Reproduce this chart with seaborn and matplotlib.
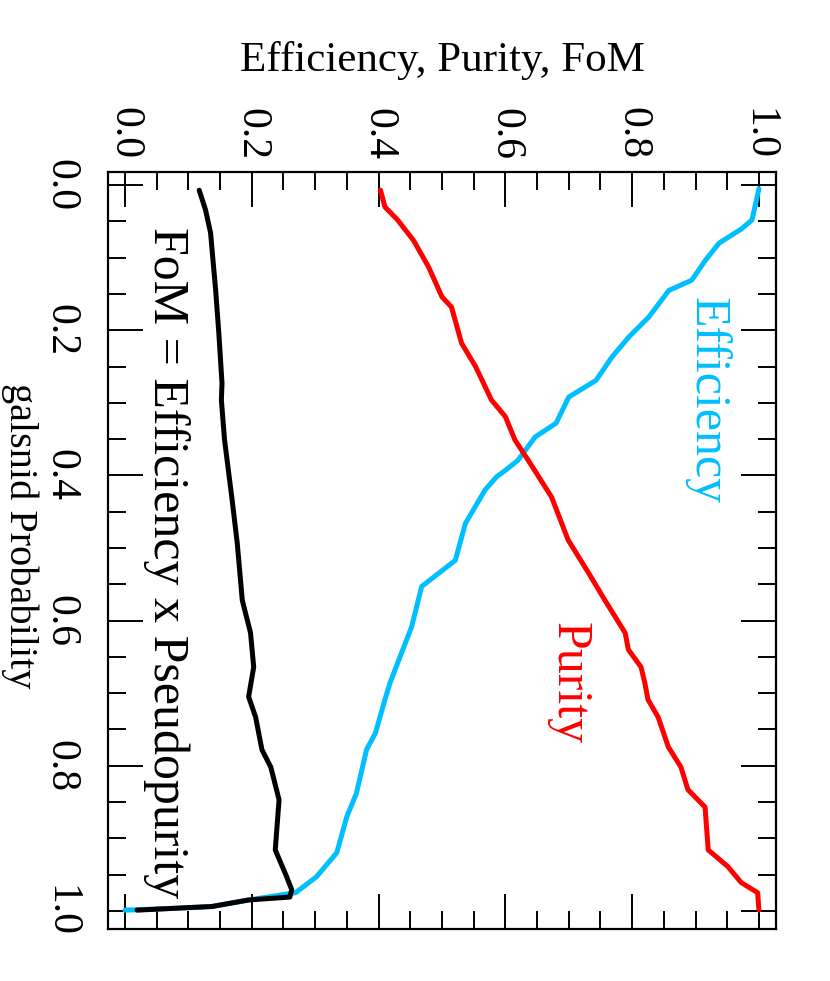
import numpy as np
import matplotlib
matplotlib.use("Agg")
import matplotlib.pyplot as plt
from matplotlib.ticker import MultipleLocator
import seaborn as sns

# galsnid probability cut vs. efficiency / purity / FoM
eff_prob = [0.005, 0.048, 0.06, 0.08, 0.103, 0.131, 0.145, 0.182, 0.209, 0.237,
            0.269, 0.292, 0.328, 0.347, 0.379, 0.393, 0.402, 0.42, 0.466, 0.517,
            0.553, 0.609, 0.645, 0.686, 0.709, 0.755, 0.778, 0.838, 0.87, 0.92,
            0.953, 0.975, 0.985, 0.994, 0.997, 0.999]
eff_val = [1.0, 0.989, 0.973, 0.937, 0.916, 0.894, 0.858, 0.826, 0.795, 0.768,
           0.743, 0.70, 0.68, 0.647, 0.62, 0.60, 0.586, 0.568, 0.537, 0.521,
           0.468, 0.452, 0.436, 0.418, 0.41, 0.395, 0.381, 0.365, 0.35, 0.334,
           0.302, 0.269, 0.195, 0.137, 0.065, 0.0]

pur_prob = [0.007, 0.03, 0.048, 0.076, 0.113, 0.154, 0.168, 0.218, 0.25, 0.296,
            0.319, 0.351, 0.379, 0.43, 0.489, 0.534, 0.572, 0.617, 0.64, 0.664,
            0.686, 0.709, 0.733, 0.774, 0.802, 0.833, 0.857, 0.916, 0.939, 0.961,
            0.975, 0.999]
pur_val = [0.403, 0.41, 0.43, 0.455, 0.479, 0.50, 0.515, 0.531, 0.553, 0.578,
           0.60, 0.615, 0.636, 0.673, 0.699, 0.731, 0.757, 0.789, 0.794, 0.814,
           0.82, 0.825, 0.841, 0.857, 0.877, 0.888, 0.915, 0.92, 0.951, 0.972,
           0.998, 1.0]

fom_prob = [0.007, 0.034, 0.066, 0.145, 0.204, 0.273, 0.296, 0.351, 0.434, 0.493,
            0.572, 0.617, 0.664, 0.705, 0.733, 0.778, 0.802, 0.847, 0.916, 0.953,
            0.971, 0.981, 0.985, 0.994, 0.997, 0.999]
fom_val = [0.117, 0.127, 0.135, 0.143, 0.148, 0.153, 0.152, 0.157, 0.169, 0.177,
           0.185, 0.198, 0.203, 0.195, 0.206, 0.216, 0.23, 0.243, 0.237, 0.255,
           0.263, 0.26, 0.195, 0.137, 0.065, 0.019]

ticks = [0.0, 0.2, 0.4, 0.6, 0.8, 1.0]

sns.set_style("ticks")
plt.rcParams['font.family'] = ['Liberation Serif', 'DejaVu Serif']
plt.rcParams['text.color'] = 'black'
plt.rcParams['axes.labelcolor'] = 'black'
plt.rcParams['xtick.color'] = 'black'
plt.rcParams['ytick.color'] = 'black'

fig = plt.figure(figsize=(8.3, 9.81), dpi=100)
ax = fig.add_axes([0.130, 0.053, 0.805, 0.7716])

# plot is drawn rotated: probability runs down, values run across
sns.lineplot(x=eff_val, y=eff_prob, sort=False, estimator=None, color='#00bfff', lw=3.6, ax=ax)
sns.lineplot(x=pur_val, y=pur_prob, sort=False, estimator=None, color='#ff0000', lw=3.6, ax=ax)
sns.lineplot(x=fom_val, y=fom_prob, sort=False, estimator=None, color='black', lw=3.6, ax=ax)

ax.set_xlim(-0.027, 1.027)
ax.set_ylim(1.025, -0.018)
ax.set_xticks(ticks)
ax.set_yticks(ticks)
ax.xaxis.set_minor_locator(MultipleLocator(0.05))
ax.yaxis.set_minor_locator(MultipleLocator(0.05))

ax.tick_params(which='both', direction='in', top=True, bottom=True, left=True, right=True,
               labeltop=True, labelbottom=False, width=1.4, color='black')
ax.tick_params(which='major', length=25)
ax.tick_params(which='minor', length=13)
ax.tick_params(axis='x', labelrotation=-90, labelsize=30, pad=9)
ax.tick_params(axis='y', labelrotation=-90, labelsize=30, pad=20)
for lab in ax.get_yticklabels():
    lab.set_va('center')

for sp in ax.spines.values():
    sp.set_linewidth(1.6)
    sp.set_color('black')

ax.xaxis.set_label_position('top')
ax.set_xlabel('Efficiency, Purity, FoM', fontsize=31, labelpad=26)
fig.text(20 / 830, 1 - 536 / 981, 'galsnid Probability', fontsize=29,
         rotation=-90, ha='center', va='center')

ax.text(0.918, 0.297, 'Efficiency', color='#00bfff', fontsize=36,
        rotation=-90, ha='center', va='center')
ax.text(0.70, 0.686, 'Purity', color='#ff0000', fontsize=36,
        rotation=-90, ha='center', va='center')
ax.text(0.066, 0.52, 'FoM = Efficiency x Pseudopurity', color='black', fontsize=36,
        rotation=-90, ha='center', va='center')

fig.savefig('out.png', dpi=100)
